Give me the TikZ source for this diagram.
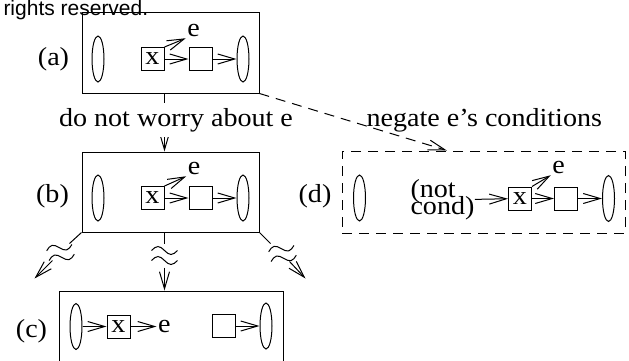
\documentclass[tikz,border=0pt]{standalone}
\usepackage{fontspec}
\setmainfont{Liberation Serif}[FakeStretch=1.08]
\newfontfamily\notefont{Liberation Sans}
\usetikzlibrary{arrows.meta,positioning,shapes.geometric,calc}

% broken connector mark (two waves)
\tikzset{
  brk/.pic={
    \draw (-13,-5) sin (-6.5,-9) cos (0,-5) sin (6.5,-1) cos (13,-5);
    \draw (-13,5) sin (-6.5,1) cos (0,5) sin (6.5,9) cos (13,5);
  }
}

\begin{document}
\begin{tikzpicture}[x=1pt, y=-1pt, line width=1pt,
  every node/.style={font=\fontsize{26}{30}\selectfont},
  node distance=24pt,
  stage/.style={draw, rectangle, inner sep=0pt, minimum width=177pt, minimum height=81pt},
  oval/.style={draw, ellipse, inner sep=0pt, minimum width=12pt, minimum height=46pt},
  cell/.style={draw, rectangle, inner sep=0pt, minimum size=23pt},
  lbl/.style={inner sep=1pt},
  tag/.style={anchor=base, inner sep=0pt},
  flow/.style={-{Straight Barb[length=17pt,width=10pt]}},
  hint/.style={dash pattern=on 10pt off 7pt}
]
  \useasboundingbox (0,0) rectangle (629,360);
  \clip (0,0) rectangle (629,360);

  \node[font=\notefont\fontsize{21}{25}\selectfont, anchor=base west, inner sep=0pt]
    (note) at (3,15) {rights reserved.};

  % the four stages
  \node[stage] (a) at (170.5,52.5) {};
  \node[stage, minimum height=80pt] (b) at (170.5,192) {};
  \node[stage, minimum width=224pt, minimum height=90pt] (c) at (171,336) {};
  \node[stage, hint, minimum width=283pt, minimum height=82pt] (d) at (483.5,192) {};

  \node[tag] (la) at (53.5,65) {(a)};
  \node[tag] (lb) at (52.5,202) {(b)};
  \node[tag] (lc) at (31.5,337) {(c)};
  \node[tag] (ld) at (315,202) {(d)};

  % (a)
  \node[oval] (al) at (98,59) {};
  \node[cell] (xa) at (152.5,59) {x};
  \node[cell, right=of xa] (ya) {};
  \node[oval, right=of ya] (ar) {};
  \node[lbl] (ea) at (193.5,30.5) {e};
  \draw[flow] (xa) -- (ya);
  \draw[flow] (ya) -- (ar);
  \draw[flow] (xa.north east) -- (ea.south west);

  % (b)
  \node[oval] (bl) at (98,198) {};
  \node[cell] (xb) at (152.5,198) {x};
  \node[cell, right=of xb] (yb) {};
  \node[oval, right=of yb] (br) {};
  \node[lbl] (eb) at (194,168.5) {e};
  \draw[flow] (xb) -- (yb);
  \draw[flow] (yb) -- (br);
  \draw[flow] (xb.north east) -- (eb.south west);

  % (c)
  \node[oval] (cl) at (76,326.5) {};
  \node[cell, right=of cl] (xc) {x};
  \node[lbl, right=26pt of xc] (ec) {e};
  \node[cell] (yc) at (223.5,326) {};
  \node[oval, right=of yc] (cr) {};
  \draw[flow] (cl) -- (xc);
  \draw[flow] (xc) -- (ec);
  \draw[flow] (yc) -- (cr);

  % (d)
  \node[oval] (dl) at (359.5,198) {};
  \node[anchor=west, inner sep=0pt, align=left,
        font={\fontsize{26}{17}\selectfont\lineskiplimit=-50pt}]
    (notc) at (410,200) {(not\\cond)};
  \node[cell] (xd) at (520,198.5) {x};
  \node[cell, right=22pt of xd] (yd) {};
  \node[oval, right=of yd] (dr) {};
  \node[lbl] (ed) at (558.5,167.5) {e};
  \draw[flow] (notc) -- (xd);
  \draw[flow] (xd) -- (yd);
  \draw[flow] (yd) -- (dr);
  \draw[flow] (xd.north east) -- (ed.south west);

  % (a) -> (b)
  \draw[flow] (xa.east |- a.south) -- (xa.east |- b.north);
  \node[fill=white, inner xsep=2pt, inner ysep=5pt, anchor=base]
    (worry) at (176,126) {do not worry about e};

  % (a) -> (d)
  \coordinate (dtop) at ($(d.north west)!0.371!(d.north east)$);
  \draw[hint, flow] (a.south east) -- (dtop);
  \node[anchor=base west, inner sep=0pt] (negate) at (366,126) {negate e's conditions};

  % (b) -> (c) and the two side branches
  \coordinate (lt) at ($(b.south west)+(-47,46)$);
  \coordinate (rt) at ($(b.south east)+(46,46)$);
  \draw (b.south west) -- ++(-12,11);
  \pic[rotate=14] at ($(b.south west)+(-21,20)$) {brk};
  \draw[flow] ($(b.south west)+(-29,28)$) -- (lt);

  \draw (xb.east |- b.south) -- ++(0,11);
  \pic at ($(xb.east |- b.south)+(0,23)$) {brk};
  \draw[flow] ($(xb.east |- b.south)+(0,35)$) -- (xb.east |- c.north);

  \draw (b.south east) -- ++(11,11);
  \pic[rotate=14] at ($(b.south east)+(23,21)$) {brk};
  \draw[flow] ($(b.south east)+(30,29)$) -- (rt);
\end{tikzpicture}
\end{document}
